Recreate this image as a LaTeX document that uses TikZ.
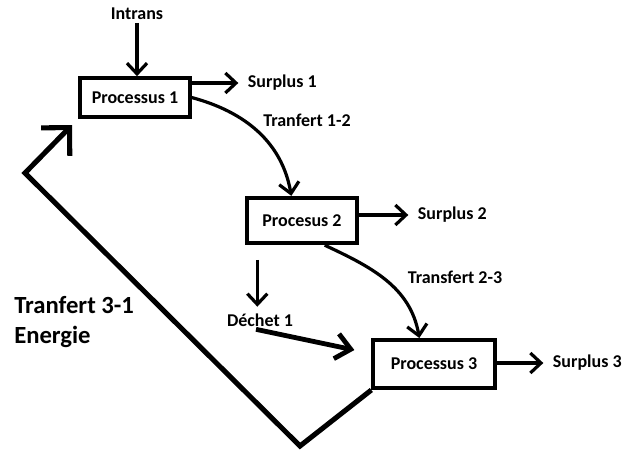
\documentclass[tikz,border=0pt]{standalone}
\usepackage{fontspec}
\setmainfont{Carlito}
\usetikzlibrary{arrows.meta, positioning, calc}
\tikzset{
  procbox/.style = {rectangle, draw=black, line width=3pt, fill=white,
                    minimum width=82pt, minimum height=29pt, inner sep=2pt,
                    font=\fontsize{13.5}{15}\selectfont\bfseries},
  lbl/.style     = {font=\fontsize{13.5}{15}\selectfont\bfseries, inner sep=2pt},
  biglbl/.style  = {font=\fontsize{18.5}{22}\selectfont\bfseries, align=left, inner sep=0pt},
  flow/.style    = {-{Straight Barb[length=8pt,width=15pt]}, line width=2.4pt},
  wasteflow/.style={-{Straight Barb[length=11pt,width=19pt]}, line width=3.6pt},
  backflow/.style= {-{Straight Barb[length=15pt,width=30pt]}, line width=3.8pt},
}
\begin{document}
\begin{tikzpicture}[x=0.75pt, y=-0.75pt]
        \useasboundingbox (0,0) rectangle (628,455);
        \node[procbox] (p1) at (135,97.5) {Processus 1};
        \node[procbox, minimum height=34pt] (p2) at (302,220.5) {Procesus 2};
        \node[procbox, minimum width=91pt, minimum height=36pt] (p3) at (434,364) {Processus 3};
        \node[lbl] (intrans) at (137,14) {Intrans};
        \node[lbl, anchor=west] (s1) at (245,83) {Surplus 1};
        \node[lbl, anchor=west] (s2) at (415,215) {Surplus 2};
        \node[lbl, anchor=west] (s3) at (550,363) {Surplus 3};
        \node[lbl] (t12) at (307,120) {Tranfert 1-2};
        \node[lbl] (t23) at (455,277) {Transfert 2-3};
        \node[lbl] (dechet) at (260,320) {Déchet 1};
        \node[biglbl, anchor=west] (t31) at (14,322) {Tranfert 3-1\\Energie};
        \coordinate (lowc) at (300,446);
        \coordinate (leftc) at (25,173);
        \coordinate (tip) at (72,125);
        \draw[flow] (intrans.south) -- (intrans.south |- p1.north);
        \foreach \a/\b in {p1/s1, p2/s2, p3/s3}{\draw[flow, shorten >=5pt] (\a.east |- \b.west) -- (\b.west);}
        \draw[flow] (p1.east) to[out=-15, in=100] ([xshift=-8pt]p2.north);
        \draw[flow] ([xshift=17pt]p2.south) to[out=-25, in=100] ([xshift=-11pt]p3.north);
        \draw[flow, shorten <=11pt, shorten >=3pt] ([xshift=-2pt]dechet.north |- p2.south) -- ([xshift=-2pt]dechet.north);
        \draw[wasteflow, shorten >=13pt] ([xshift=-3pt]dechet.south) -- ($(p3.north west)!0.3!(p3.south west)$);
        \draw[backflow] (p3.south west) -- (lowc) -- (leftc) -- (tip);
    \end{tikzpicture}
\end{document}
